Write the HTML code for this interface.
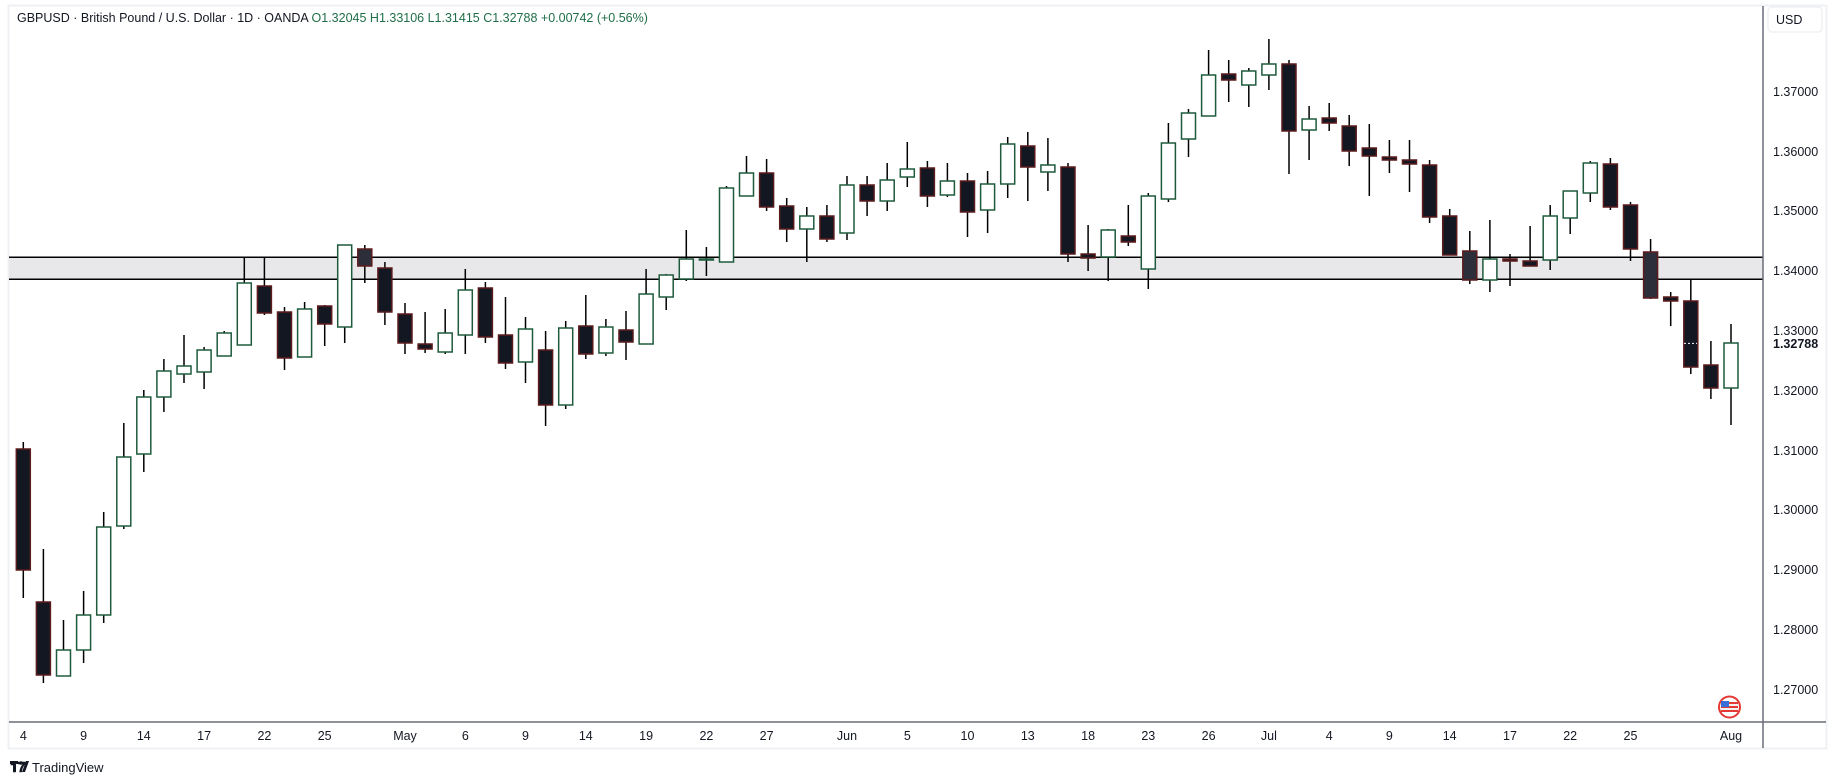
<!DOCTYPE html>
<html><head><meta charset="utf-8"><style>
html,body{margin:0;padding:0;background:#fff;}
svg{display:block;font-family:"Liberation Sans","DejaVu Sans",sans-serif;}
.u line,.d line,.g line{stroke:#000;stroke-width:1.5}
.u rect{fill:#fff;stroke:#1e5a3c;stroke-width:1.5}
.d rect{fill:#131722;stroke:#5c1c1c;stroke-width:1.5}
.g rect{fill:#2c2e3a;stroke:#5c1c1c;stroke-width:1.5}
.pl{font-size:12.5px;fill:#131722}
.tl{font-size:12.5px;fill:#131722;text-anchor:middle}
</style></head><body>
<svg width="1835" height="784" viewBox="0 0 1835 784">
<rect x="0" y="0" width="1835" height="784" fill="#fff"/>
<rect x="8.5" y="5.5" width="1818" height="743" fill="none" stroke="#eef0f3" stroke-width="2"/>
<!-- zone -->
<rect x="9" y="257.3" width="1754" height="22" fill="#e8e8ea"/>
<line x1="9" y1="257.3" x2="1763" y2="257.3" stroke="#000" stroke-width="1.5"/>
<line x1="9" y1="279.3" x2="1763" y2="279.3" stroke="#000" stroke-width="1.5"/>
<!-- axes -->
<line x1="1763" y1="6" x2="1763" y2="748" stroke="#6a6d78" stroke-width="1.5"/>
<line x1="9" y1="722" x2="1826" y2="722" stroke="#6a6d78" stroke-width="1.5"/>
<!-- title -->
<text x="17" y="22" font-size="12.5" fill="#131722">GBPUSD · British Pound / U.S. Dollar · 1D · OANDA <tspan fill="#1f6e48"> O1.32045  H1.33106  L1.31415  C1.32788  +0.00742 (+0.56%)</tspan></text>
<!-- USD box -->
<rect x="1768" y="7" width="54" height="25" rx="4" fill="#fff" stroke="#eef0f3" stroke-width="1.5"/>
<text x="1776" y="24" font-size="12.5" fill="#131722">USD</text>
<!-- price labels -->
<text class="pl" x="1773" y="96">1.37000</text>
<text class="pl" x="1773" y="156">1.36000</text>
<text class="pl" x="1773" y="215">1.35000</text>
<text class="pl" x="1773" y="275">1.34000</text>
<text class="pl" x="1773" y="335">1.33000</text>
<text class="pl" x="1773" y="348" font-weight="bold">1.32788</text>
<text class="pl" x="1773" y="395">1.32000</text>
<text class="pl" x="1773" y="455">1.31000</text>
<text class="pl" x="1773" y="514">1.30000</text>
<text class="pl" x="1773" y="574">1.29000</text>
<text class="pl" x="1773" y="634">1.28000</text>
<text class="pl" x="1773" y="694">1.27000</text>
<!-- time labels -->
<g class="tl">
<text class="tl" x="23.3" y="740">4</text>
<text class="tl" x="83.6" y="740">9</text>
<text class="tl" x="143.8" y="740">14</text>
<text class="tl" x="204.1" y="740">17</text>
<text class="tl" x="264.4" y="740">22</text>
<text class="tl" x="324.7" y="740">25</text>
<text class="tl" x="405" y="740">May</text>
<text class="tl" x="465.3" y="740">6</text>
<text class="tl" x="525.5" y="740">9</text>
<text class="tl" x="585.8" y="740">14</text>
<text class="tl" x="646.1" y="740">19</text>
<text class="tl" x="706.4" y="740">22</text>
<text class="tl" x="766.6" y="740">27</text>
<text class="tl" x="847" y="740">Jun</text>
<text class="tl" x="907.3" y="740">5</text>
<text class="tl" x="967.5" y="740">10</text>
<text class="tl" x="1027.8" y="740">13</text>
<text class="tl" x="1088.1" y="740">18</text>
<text class="tl" x="1148.3" y="740">23</text>
<text class="tl" x="1208.6" y="740">26</text>
<text class="tl" x="1268.9" y="740">Jul</text>
<text class="tl" x="1329.2" y="740">4</text>
<text class="tl" x="1389.4" y="740">9</text>
<text class="tl" x="1449.7" y="740">14</text>
<text class="tl" x="1510" y="740">17</text>
<text class="tl" x="1570.2" y="740">22</text>
<text class="tl" x="1630.5" y="740">25</text>
<text class="tl" x="1731" y="740">Aug</text>
</g>
<!-- candles -->
<g class="d" transform="translate(23.3,0)"><line x1="0" x2="0" y1="442" y2="598"/><rect x="-7" y="449" width="14" height="121"/></g>
<g class="d" transform="translate(43.4,0)"><line x1="0" x2="0" y1="549" y2="683"/><rect x="-7" y="602" width="14" height="73"/></g>
<g class="u" transform="translate(63.5,0)"><line x1="0" x2="0" y1="620" y2="676"/><rect x="-7" y="650" width="14" height="26"/></g>
<g class="u" transform="translate(83.6,0)"><line x1="0" x2="0" y1="591" y2="663"/><rect x="-7" y="615" width="14" height="35"/></g>
<g class="u" transform="translate(103.7,0)"><line x1="0" x2="0" y1="512" y2="623"/><rect x="-7" y="527" width="14" height="88"/></g>
<g class="u" transform="translate(123.8,0)"><line x1="0" x2="0" y1="423" y2="529"/><rect x="-7" y="457" width="14" height="69"/></g>
<g class="u" transform="translate(143.8,0)"><line x1="0" x2="0" y1="390" y2="472"/><rect x="-7" y="397" width="14" height="57"/></g>
<g class="u" transform="translate(163.9,0)"><line x1="0" x2="0" y1="359" y2="412"/><rect x="-7" y="371" width="14" height="26"/></g>
<g class="u" transform="translate(184,0)"><line x1="0" x2="0" y1="335" y2="383"/><rect x="-7" y="366" width="14" height="8"/></g>
<g class="u" transform="translate(204.1,0)"><line x1="0" x2="0" y1="347" y2="389"/><rect x="-7" y="350" width="14" height="22"/></g>
<g class="u" transform="translate(224.2,0)"><line x1="0" x2="0" y1="331" y2="356"/><rect x="-7" y="333" width="14" height="23"/></g>
<g class="u" transform="translate(244.3,0)"><line x1="0" x2="0" y1="257" y2="345"/><rect x="-7" y="283" width="14" height="62"/></g>
<g class="d" transform="translate(264.4,0)"><line x1="0" x2="0" y1="257" y2="315"/><rect x="-7" y="286" width="14" height="27"/></g>
<g class="d" transform="translate(284.5,0)"><line x1="0" x2="0" y1="307" y2="370"/><rect x="-7" y="312" width="14" height="46"/></g>
<g class="u" transform="translate(304.6,0)"><line x1="0" x2="0" y1="302" y2="357"/><rect x="-7" y="309" width="14" height="48"/></g>
<g class="d" transform="translate(324.7,0)"><line x1="0" x2="0" y1="305" y2="346"/><rect x="-7" y="306" width="14" height="18"/></g>
<g class="u" transform="translate(344.7,0)"><line x1="0" x2="0" y1="245" y2="343"/><rect x="-7" y="245" width="14" height="82"/></g>
<g class="g" transform="translate(364.8,0)"><line x1="0" x2="0" y1="245" y2="283"/><rect x="-7" y="249" width="14" height="17"/></g>
<g class="d" transform="translate(384.9,0)"><line x1="0" x2="0" y1="262" y2="325"/><rect x="-7" y="268" width="14" height="44"/></g>
<g class="d" transform="translate(405,0)"><line x1="0" x2="0" y1="303" y2="354"/><rect x="-7" y="314" width="14" height="29"/></g>
<g class="d" transform="translate(425.1,0)"><line x1="0" x2="0" y1="312" y2="353"/><rect x="-7" y="344" width="14" height="5"/></g>
<g class="u" transform="translate(445.2,0)"><line x1="0" x2="0" y1="309" y2="354"/><rect x="-7" y="333" width="14" height="19"/></g>
<g class="u" transform="translate(465.3,0)"><line x1="0" x2="0" y1="269" y2="354"/><rect x="-7" y="290" width="14" height="45"/></g>
<g class="d" transform="translate(485.4,0)"><line x1="0" x2="0" y1="282" y2="343"/><rect x="-7" y="288" width="14" height="49"/></g>
<g class="d" transform="translate(505.5,0)"><line x1="0" x2="0" y1="297" y2="369"/><rect x="-7" y="335" width="14" height="28"/></g>
<g class="u" transform="translate(525.5,0)"><line x1="0" x2="0" y1="317" y2="383"/><rect x="-7" y="329" width="14" height="33"/></g>
<g class="d" transform="translate(545.6,0)"><line x1="0" x2="0" y1="331" y2="426"/><rect x="-7" y="350" width="14" height="55"/></g>
<g class="u" transform="translate(565.7,0)"><line x1="0" x2="0" y1="321" y2="409"/><rect x="-7" y="328" width="14" height="77"/></g>
<g class="d" transform="translate(585.8,0)"><line x1="0" x2="0" y1="295" y2="359"/><rect x="-7" y="326" width="14" height="28"/></g>
<g class="u" transform="translate(605.9,0)"><line x1="0" x2="0" y1="319" y2="356"/><rect x="-7" y="327" width="14" height="26"/></g>
<g class="d" transform="translate(626,0)"><line x1="0" x2="0" y1="311" y2="360"/><rect x="-7" y="330" width="14" height="12"/></g>
<g class="u" transform="translate(646.1,0)"><line x1="0" x2="0" y1="269" y2="344"/><rect x="-7" y="294" width="14" height="50"/></g>
<g class="u" transform="translate(666.2,0)"><line x1="0" x2="0" y1="274" y2="310"/><rect x="-7" y="275" width="14" height="22"/></g>
<g class="u" transform="translate(686.3,0)"><line x1="0" x2="0" y1="230" y2="281"/><rect x="-7" y="259" width="14" height="20"/></g>
<g class="u" transform="translate(706.4,0)"><line x1="0" x2="0" y1="247" y2="276"/><rect x="-7" y="259" width="14" height="1"/></g>
<g class="u" transform="translate(726.5,0)"><line x1="0" x2="0" y1="186" y2="262"/><rect x="-7" y="188" width="14" height="74"/></g>
<g class="u" transform="translate(746.5,0)"><line x1="0" x2="0" y1="156" y2="196"/><rect x="-7" y="173" width="14" height="23"/></g>
<g class="d" transform="translate(766.6,0)"><line x1="0" x2="0" y1="159" y2="211"/><rect x="-7" y="173" width="14" height="34"/></g>
<g class="d" transform="translate(786.7,0)"><line x1="0" x2="0" y1="198" y2="242"/><rect x="-7" y="206" width="14" height="23"/></g>
<g class="u" transform="translate(806.8,0)"><line x1="0" x2="0" y1="207" y2="262"/><rect x="-7" y="216" width="14" height="13"/></g>
<g class="d" transform="translate(826.9,0)"><line x1="0" x2="0" y1="205" y2="242"/><rect x="-7" y="216" width="14" height="23"/></g>
<g class="u" transform="translate(847,0)"><line x1="0" x2="0" y1="176" y2="240"/><rect x="-7" y="185" width="14" height="48"/></g>
<g class="d" transform="translate(867.1,0)"><line x1="0" x2="0" y1="176" y2="216"/><rect x="-7" y="185" width="14" height="16"/></g>
<g class="u" transform="translate(887.2,0)"><line x1="0" x2="0" y1="163" y2="211"/><rect x="-7" y="180" width="14" height="21"/></g>
<g class="u" transform="translate(907.3,0)"><line x1="0" x2="0" y1="142" y2="187"/><rect x="-7" y="169" width="14" height="8"/></g>
<g class="d" transform="translate(927.4,0)"><line x1="0" x2="0" y1="161" y2="207"/><rect x="-7" y="168" width="14" height="28"/></g>
<g class="u" transform="translate(947.4,0)"><line x1="0" x2="0" y1="163" y2="197"/><rect x="-7" y="181" width="14" height="14"/></g>
<g class="d" transform="translate(967.5,0)"><line x1="0" x2="0" y1="173" y2="237"/><rect x="-7" y="181" width="14" height="31"/></g>
<g class="u" transform="translate(987.6,0)"><line x1="0" x2="0" y1="171" y2="233"/><rect x="-7" y="184" width="14" height="26"/></g>
<g class="u" transform="translate(1007.7,0)"><line x1="0" x2="0" y1="137" y2="198"/><rect x="-7" y="144" width="14" height="40"/></g>
<g class="d" transform="translate(1027.8,0)"><line x1="0" x2="0" y1="132" y2="201"/><rect x="-7" y="146" width="14" height="21"/></g>
<g class="u" transform="translate(1047.9,0)"><line x1="0" x2="0" y1="138" y2="191"/><rect x="-7" y="165" width="14" height="7"/></g>
<g class="d" transform="translate(1068,0)"><line x1="0" x2="0" y1="163" y2="262"/><rect x="-7" y="167" width="14" height="87"/></g>
<g class="d" transform="translate(1088.1,0)"><line x1="0" x2="0" y1="225" y2="271"/><rect x="-7" y="254" width="14" height="4"/></g>
<g class="u" transform="translate(1108.2,0)"><line x1="0" x2="0" y1="229" y2="281"/><rect x="-7" y="230" width="14" height="27"/></g>
<g class="d" transform="translate(1128.3,0)"><line x1="0" x2="0" y1="205" y2="246"/><rect x="-7" y="236" width="14" height="6"/></g>
<g class="u" transform="translate(1148.3,0)"><line x1="0" x2="0" y1="193" y2="289"/><rect x="-7" y="196" width="14" height="73"/></g>
<g class="u" transform="translate(1168.4,0)"><line x1="0" x2="0" y1="123" y2="202"/><rect x="-7" y="143" width="14" height="56"/></g>
<g class="u" transform="translate(1188.5,0)"><line x1="0" x2="0" y1="109" y2="157"/><rect x="-7" y="113" width="14" height="26"/></g>
<g class="u" transform="translate(1208.6,0)"><line x1="0" x2="0" y1="50" y2="116"/><rect x="-7" y="75" width="14" height="41"/></g>
<g class="d" transform="translate(1228.7,0)"><line x1="0" x2="0" y1="60" y2="102"/><rect x="-7" y="74" width="14" height="6"/></g>
<g class="u" transform="translate(1248.8,0)"><line x1="0" x2="0" y1="68" y2="107"/><rect x="-7" y="71" width="14" height="14"/></g>
<g class="u" transform="translate(1268.9,0)"><line x1="0" x2="0" y1="39" y2="90"/><rect x="-7" y="64" width="14" height="11"/></g>
<g class="d" transform="translate(1289,0)"><line x1="0" x2="0" y1="60" y2="174"/><rect x="-7" y="64" width="14" height="67"/></g>
<g class="u" transform="translate(1309.1,0)"><line x1="0" x2="0" y1="106" y2="160"/><rect x="-7" y="119" width="14" height="11"/></g>
<g class="d" transform="translate(1329.2,0)"><line x1="0" x2="0" y1="103" y2="131"/><rect x="-7" y="118" width="14" height="5"/></g>
<g class="d" transform="translate(1349.2,0)"><line x1="0" x2="0" y1="115" y2="166"/><rect x="-7" y="126" width="14" height="25"/></g>
<g class="d" transform="translate(1369.3,0)"><line x1="0" x2="0" y1="124" y2="196"/><rect x="-7" y="148" width="14" height="8"/></g>
<g class="d" transform="translate(1389.4,0)"><line x1="0" x2="0" y1="140" y2="173"/><rect x="-7" y="157" width="14" height="3"/></g>
<g class="d" transform="translate(1409.5,0)"><line x1="0" x2="0" y1="140" y2="192"/><rect x="-7" y="160" width="14" height="4"/></g>
<g class="d" transform="translate(1429.6,0)"><line x1="0" x2="0" y1="160" y2="223"/><rect x="-7" y="165" width="14" height="52"/></g>
<g class="d" transform="translate(1449.7,0)"><line x1="0" x2="0" y1="209" y2="255"/><rect x="-7" y="216" width="14" height="39"/></g>
<g class="g" transform="translate(1469.8,0)"><line x1="0" x2="0" y1="231" y2="284"/><rect x="-7" y="251" width="14" height="29"/></g>
<g class="u" transform="translate(1489.9,0)"><line x1="0" x2="0" y1="220" y2="292"/><rect x="-7" y="259" width="14" height="21"/></g>
<g class="d" transform="translate(1510,0)"><line x1="0" x2="0" y1="254" y2="286"/><rect x="-7" y="259" width="14" height="2"/></g>
<g class="d" transform="translate(1530.1,0)"><line x1="0" x2="0" y1="226" y2="266"/><rect x="-7" y="261" width="14" height="5"/></g>
<g class="u" transform="translate(1550.2,0)"><line x1="0" x2="0" y1="205" y2="270"/><rect x="-7" y="216" width="14" height="44"/></g>
<g class="u" transform="translate(1570.2,0)"><line x1="0" x2="0" y1="191" y2="234"/><rect x="-7" y="191" width="14" height="27"/></g>
<g class="u" transform="translate(1590.3,0)"><line x1="0" x2="0" y1="161" y2="202"/><rect x="-7" y="163" width="14" height="30"/></g>
<g class="d" transform="translate(1610.4,0)"><line x1="0" x2="0" y1="158" y2="210"/><rect x="-7" y="164" width="14" height="43"/></g>
<g class="d" transform="translate(1630.5,0)"><line x1="0" x2="0" y1="202" y2="261"/><rect x="-7" y="205" width="14" height="44"/></g>
<g class="g" transform="translate(1650.6,0)"><line x1="0" x2="0" y1="239" y2="299"/><rect x="-7" y="252" width="14" height="46"/></g>
<g class="d" transform="translate(1670.7,0)"><line x1="0" x2="0" y1="292" y2="326"/><rect x="-7" y="297" width="14" height="4"/></g>
<g class="d" transform="translate(1690.8,0)"><line x1="0" x2="0" y1="279" y2="374"/><rect x="-7" y="301" width="14" height="66"/></g>
<g class="d" transform="translate(1710.9,0)"><line x1="0" x2="0" y1="341" y2="399"/><rect x="-7" y="365" width="14" height="23"/></g>
<g class="u" transform="translate(1731,0)"><line x1="0" x2="0" y1="324" y2="425"/><rect x="-7" y="343" width="14" height="45"/></g>
<!-- last price dotted line -->
<line x1="1684" y1="343.4" x2="1697" y2="343.4" stroke="#fff" stroke-width="1" stroke-dasharray="2,2"/>
<!-- flag icon -->
<circle cx="1729.5" cy="707" r="10.5" fill="#fff" stroke="#e53935" stroke-width="2"/>
<rect x="1721" y="702" width="17" height="10" fill="#f2f2f2"/>
<rect x="1721" y="702" width="17" height="2" fill="#e53935"/><rect x="1721" y="706" width="17" height="2" fill="#e53935"/><rect x="1721" y="710" width="17" height="2" fill="#e53935"/>
<rect x="1721" y="701" width="8" height="6" fill="#3b6fd8"/>
<!-- TradingView logo -->
<text x="10" y="772" font-size="14" font-weight="bold" fill="#131722">𝟏𝟕</text>
<rect x="10" y="761" width="8" height="3" fill="#131722"/><rect x="13" y="761" width="3" height="11" fill="#131722"/>
<circle cx="21" cy="763" r="1.8" fill="#131722"/>
<path d="M22 772 L26 761 L29 761 L25 772 Z" fill="#131722"/>
<text x="32" y="772" font-size="13" fill="#131722">TradingView</text>
</svg>
</body></html>
